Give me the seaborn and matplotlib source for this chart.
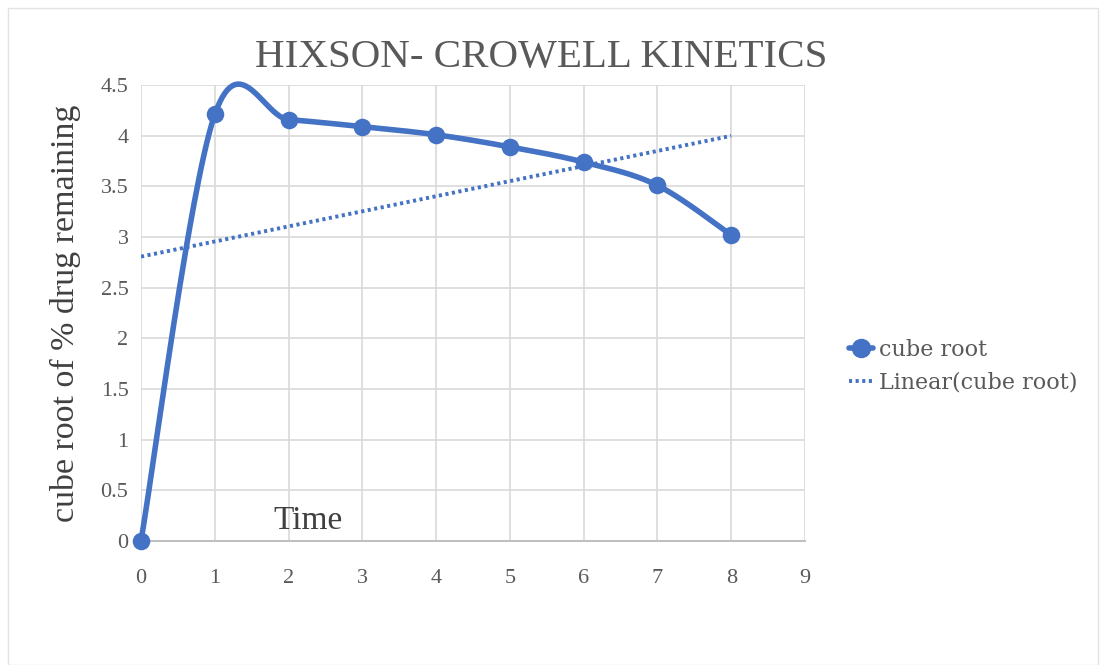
import numpy as np
import pandas as pd
import seaborn as sns
import matplotlib.pyplot as plt
from matplotlib.patches import Rectangle
from matplotlib.lines import Line2D

# Hixson-Crowell data: time vs cube root of % drug remaining
time_points = [0, 1, 2, 3, 4, 5, 6, 7, 8]
cube_root = [0.0, 4.21, 4.16, 4.09, 4.01, 3.89, 3.74, 3.51, 3.02]

x_ticks = [0, 1, 2, 3, 4, 5, 6, 7, 8, 9]
y_ticks = [0, 0.5, 1, 1.5, 2, 2.5, 3, 3.5, 4, 4.5]
y_tick_labels = ["0", "0.5", "1", "1.5", "2", "2.5", "3", "3.5", "4", "4.5"]

BLUE = "#4472C4"
GREY_TEXT = "#595959"
SERIF = ["Liberation Serif", "DejaVu Serif"]
SLAB = ["DejaVu Serif"]


def smooth_curve(xs, ys, n=60):
    """Bezier smoothing through every point (spreadsheet-style smoothed line)."""
    pts = np.column_stack([xs, ys]).astype(float)
    ext = np.vstack([pts[0], pts, pts[-1]])
    out = []
    t = np.linspace(0, 1, n)[:, None]
    for i in range(len(pts) - 1):
        p0, p1 = ext[i + 1], ext[i + 2]
        c1 = p0 + (ext[i + 2] - ext[i]) / 6.0
        c2 = p1 - (ext[i + 3] - ext[i + 1]) / 6.0
        seg = ((1 - t) ** 3) * p0 + 3 * ((1 - t) ** 2) * t * c1 \
            + 3 * (1 - t) * t ** 2 * c2 + t ** 3 * p1
        out.append(seg if i == 0 else seg[1:])
    curve = np.vstack(out)
    return curve[:, 0], curve[:, 1]


sns.set_theme(style="white")
plt.rcParams["font.family"] = SERIF

fig = plt.figure(figsize=(11.05, 6.65), dpi=100)
ax = fig.add_axes([0.1276, 0.1865, 0.6009, 0.6855])

df = pd.DataFrame({"time": time_points, "value": cube_root})
sx, sy = smooth_curve(df["time"], df["value"])
smooth_df = pd.DataFrame({"time": sx, "value": sy})

# linear trendline fitted to the measured points
slope, intercept = np.polyfit(df["time"], df["value"], 1)
trend_df = pd.DataFrame({"time": [0, 8]})
trend_df["value"] = intercept + slope * trend_df["time"]

sns.lineplot(data=trend_df, x="time", y="value", ax=ax, color=BLUE,
             linewidth=2.8, linestyle=(0, (0.8, 0.9)), zorder=3)
sns.lineplot(data=smooth_df, x="time", y="value", ax=ax, color=BLUE,
             linewidth=4.0, sort=False, estimator=None, zorder=4)
ax.lines[-1].set_clip_on(False)
sns.scatterplot(data=df, x="time", y="value", ax=ax, color=BLUE, s=160,
                edgecolor=BLUE, linewidth=0, zorder=5, clip_on=False)

ax.set_xlim(0, 9)
ax.set_ylim(0, 4.5)
ax.set_xticks(x_ticks)
ax.set_yticks(y_ticks)
ax.set_yticklabels(y_tick_labels)
ax.tick_params(axis="both", length=0, labelsize=16, labelcolor=GREY_TEXT)
ax.tick_params(axis="x", pad=20)
ax.tick_params(axis="y", pad=9)
for lab in ax.get_xticklabels() + ax.get_yticklabels():
    lab.set_fontfamily(SERIF)

ax.grid(True, color="#d9d9d9", linewidth=1.2)
for side in ["top", "right", "left"]:
    ax.spines[side].set_visible(False)
ax.spines["bottom"].set_color("#bfbfbf")
ax.spines["bottom"].set_linewidth(1.4)
ax.set_axisbelow(True)

ax.set_xlabel("")
ax.set_ylabel("cube root of % drug remaining", fontsize=24.5, color="#404040",
              labelpad=14)
ax.text(0.2515, 0.045, "Time", transform=ax.transAxes, ha="center",
        va="center", fontsize=24, color="#404040")
fig.text(0.4896, 0.913, "HIXSON- CROWELL KINETICS", ha="center", va="center",
         fontsize=29.5, color=GREY_TEXT)

handles = [
    Line2D([0], [0], color=BLUE, linewidth=4.0, marker="o", markersize=13),
    Line2D([0], [0], color=BLUE, linewidth=2.8, linestyle=(0, (0.8, 0.9))),
]
leg = fig.legend(handles, ["cube root", "Linear(cube root)"],
                 loc="center left", bbox_to_anchor=(0.750, 0.449),
                 frameon=False, handlelength=1.1, handletextpad=0.25,
                 labelspacing=0.5, prop={"family": SLAB, "size": 16})
for t in leg.get_texts():
    t.set_color(GREY_TEXT)

# outer chart-area border
fig.patches.append(Rectangle((8 / 1105, 0), 1090 / 1105, 657 / 665,
                             transform=fig.transFigure, fill=False,
                             edgecolor="#e3e3e3", linewidth=1.0))

fig.savefig("out.png", dpi=100, facecolor="white")
